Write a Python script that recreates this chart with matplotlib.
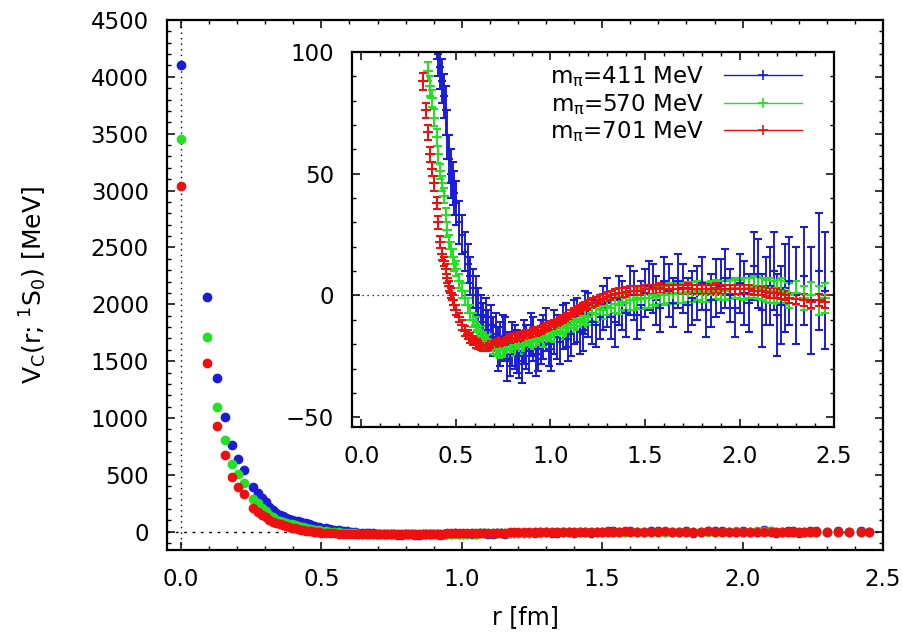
import matplotlib
matplotlib.use("Agg")
import matplotlib.pyplot as plt
from matplotlib.lines import Line2D
from matplotlib.ticker import MultipleLocator

plt.rcParams["font.family"] = ["DejaVu Sans"]
plt.rcParams["mathtext.default"] = "regular"

# ── data: V_C(r; 1S0) [MeV] for three pion masses (shared r grids, fm) ──
R = [0.000, 0.091, 0.129, 0.158, 0.182, 0.203, 0.223, 0.257, 0.273, 0.288,
     0.302, 0.315, 0.328, 0.340, 0.352, 0.364, 0.375, 0.386, 0.397, 0.407,
     0.417, 0.427, 0.436, 0.446, 0.455, 0.464, 0.473, 0.482, 0.491, 0.499,
     0.515, 0.531, 0.546, 0.561, 0.576, 0.590, 0.604, 0.618, 0.632, 0.645,
     0.658, 0.671, 0.684, 0.697, 0.710, 0.735, 0.760, 0.785, 0.810, 0.835,
     0.860, 0.885, 0.910, 0.935, 0.960, 0.990, 1.020, 1.050, 1.080, 1.110,
     1.140, 1.170, 1.200, 1.240, 1.280, 1.320, 1.360, 1.400, 1.440, 1.480,
     1.520, 1.560, 1.600, 1.650, 1.700, 1.750, 1.800, 1.850, 1.900, 1.950,
     2.000, 2.050, 2.100, 2.140, 2.180, 2.220, 2.260, 2.300, 2.340, 2.380,
     2.420, 2.450]
# off-axis lattice points at larger r
R2 = [0.722, 0.748, 0.772, 0.797, 0.822, 0.848, 0.872, 0.897, 0.922, 0.948,
      0.975, 1.005, 1.035, 1.065, 1.095, 1.125, 1.155, 1.185, 1.220, 1.260,
      1.300, 1.340, 1.380, 1.420, 1.460, 1.500, 1.540, 1.580, 1.625, 1.675,
      1.725, 1.775, 1.825, 1.875, 1.925, 1.975, 2.025, 2.075, 2.120, 2.160,
      2.200, 2.240]

V_411 = [4100, 2063, 1350, 1010, 760, 640, 546, 390, 345, 300,
         262, 222, 188, 166, 150, 136, 124, 113, 105, 99,
         94, 88, 82, 76, 66, 56, 50, 46, 42, 38,
         30, 25, 18, 13, 8, 3, 0, -5, -8, -11,
         -9, -14, -12, -17, -16, -20, -18, -24, -21, -25,
         -19, -23, -18, -22, -17, -20, -15, -19, -12, -16,
         -10, -14, -8, -12, -5, -9, -2, -7, 0, -4,
         4, -2, 6, -3, 3, -1, 5, -2, 4, 0,
         5, -3, 9, 2, 10, -4, 6, 0, 8, -2,
         10, 2]
E_411 = [40, 20, 15, 12, 10, 10, 9, 8, 8, 8,
         8, 8, 8, 8, 8, 8, 8, 8, 8, 9,
         9, 9, 9, 10, 10, 10, 10, 9, 9, 9,
         9, 8, 8, 8, 8, 8, 8, 8, 8, 8,
         8, 8, 8, 8, 9, 9, 9, 9, 9, 9,
         9, 9, 9, 9, 9, 9, 9, 9, 9, 9,
         9, 9, 9, 9, 9, 9, 10, 10, 10, 10,
         10, 10, 10, 10, 10, 11, 11, 11, 11, 11,
         12, 12, 14, 14, 16, 16, 18, 20, 20, 22,
         24, 24]
V2_411 = [-22, -17, -26, -20, -23, -27, -21, -16, -24, -19,
          -14, -22, -17, -13, -18, -11, -15, -7, -11, -9,
          -3, -11, -4, 2, -8, 1, 3, -5, 2, 6,
          -4, 1, -6, 3, 7, -5, 1, 12, -6, 4,
          -8, 3]
E2_411 = [9, 9, 9, 9, 9, 9, 9, 9, 9, 9,
          9, 9, 9, 9, 9, 9, 9, 9, 9, 9,
          10, 10, 10, 10, 10, 10, 10, 10, 11, 11,
          11, 11, 11, 12, 12, 12, 13, 14, 15, 16,
          17, 18]

V_570 = [3450, 1714, 1097, 804, 599, 510, 428, 288, 250, 212,
         180, 152, 128, 106, 92, 86, 81, 73, 65, 58,
         51, 46, 41, 33, 27, 22, 19, 16, 13, 11,
         6, 2, -1, -4, -7, -10, -12, -14, -15.5, -17,
         -18, -19, -20, -21, -21.5, -22.5, -22.5, -22, -21.5, -21,
         -20, -19.5, -19, -18.5, -18, -17, -16, -15, -13.5, -12,
         -11, -10, -9, -7.5, -6, -5, -4, -3, -2, -1.5,
         -1, -0.5, 0, 0.5, 1, 1.5, 1.5, 2, 2, 2.5,
         2.5, 3, 3, 2, 1.5, 2, 0, 1, -1, 0,
         -2, -1]
E_570 = [30, 15, 10, 8, 6, 5, 5, 5, 5, 4,
         4, 4, 4, 4, 4, 4, 3.5, 3.5, 3.5, 3.5,
         3, 3, 3, 3, 3, 3, 3, 3, 3, 3,
         3, 3, 3, 3, 3, 3, 3, 3, 3, 3,
         3, 3, 3, 3, 3, 3, 3, 3, 3, 3,
         3, 3, 3, 3, 3, 3, 3, 3, 3, 3,
         3, 3, 3, 3.5, 3.5, 3.5, 3.5, 3.5, 4, 4,
         4, 4, 4, 4, 4, 4, 4, 4, 4, 4,
         4, 4, 4.5, 4.5, 4.5, 5, 5, 5, 5, 5.5,
         6, 6]
V2_570 = [-22, -22.5, -22, -21.5, -20.5, -20, -19, -18.5, -18, -17.5,
          -16.5, -15.5, -14.5, -13, -12, -10.5, -9.5, -8.5, -7, -5.5,
          -4.5, -3.5, -2.5, -2, -1, -1, 0, 0.5, 1, 1,
          1.5, 2, 1.5, 2.5, 2, 3, 2.5, 3.5, 2.5, 2,
          1.5, 1]
E2_570 = [3, 3, 3, 3, 3, 3, 3, 3, 3, 3,
          3, 3, 3, 3, 3, 3, 3, 3, 3.5, 3.5,
          3.5, 3.5, 3.5, 4, 4, 4, 4, 4, 4, 4,
          4, 4, 4, 4, 4, 4, 4.5, 4.5, 4.5, 5,
          5, 5]

V_701 = [3040, 1480, 927, 675, 484, 393, 334, 208, 178, 150,
         126, 106, 88, 76, 67, 58, 52, 46, 38, 30,
         22, 17, 14, 11, 7, 4, 1, -2, -4, -6,
         -9, -12, -14.5, -16, -17.5, -18.5, -19.5, -20, -20.5, -21,
         -21, -20.5, -20.5, -20, -19.5, -19, -18.5, -18, -17.5, -17,
         -16.5, -16, -15.5, -15, -14, -13, -12, -11, -9.5, -8,
         -6.5, -5, -4, -2.5, -1.5, 0, 1, 1.5, 2, 2,
         2.5, 2.5, 2.5, 2.5, 2.5, 2.5, 2.5, 2.5, 2.5, 2.5,
         2.5, 2.5, 2, 1.5, 1, 0.5, -1, -1.5, -2, -2.5,
         -2, -2.5]
E_701 = [30, 15, 10, 8, 6, 5, 5, 4, 4, 4,
         4, 3.5, 3.5, 3, 3, 3, 3, 3, 2.5, 2.5,
         2.5, 2.5, 2, 2, 2, 2, 2, 2, 2, 2,
         2, 2, 2, 2, 2, 2, 2, 2, 2, 2,
         2, 2, 2, 2, 2, 2, 2, 2, 2, 2,
         2, 2, 2, 2, 2, 2, 2, 2, 2, 2,
         2, 2, 2, 2, 2, 2, 2, 2, 2, 2,
         2, 2, 2, 2, 2, 2, 2, 2, 2, 2,
         2, 2, 2, 2, 2, 2, 2, 2, 2.5, 2.5,
         2.5, 2.5]
V2_701 = [-19.5, -19, -18.5, -18, -17.5, -17, -16, -16, -15, -14.5,
          -13.5, -12.5, -11.5, -10, -9, -7, -6, -4.5, -3, -2,
          -0.5, 0.5, 1, 2, 2, 2.5, 2.5, 3, 2.5, 2.5,
          3, 2.5, 2.5, 3, 2.5, 2.5, 2.5, 2, 2, 1,
          1, 0]
E2_701 = [2] * 42

LABELS = [r"m$_\pi$=411 MeV", r"m$_\pi$=570 MeV", r"m$_\pi$=701 MeV"]
COLORS = ["#1c1cd8", "#22e022", "#ee1010"]
SERIES = [(V_411, E_411, V2_411, E2_411),
          (V_570, E_570, V2_570, E2_570),
          (V_701, E_701, V2_701, E2_701)]
MS_INSET = [6, 6.5, 7]

FS = 16.5


def style_axes(ax, xminor, yminor):
    ax.xaxis.set_minor_locator(MultipleLocator(xminor))
    ax.yaxis.set_minor_locator(MultipleLocator(yminor))
    ax.tick_params(which="both", direction="in", top=True, right=True,
                   labelsize=FS, pad=13)
    ax.tick_params(which="major", length=6, width=1.1)
    ax.tick_params(which="minor", length=3, width=1.0)
    for sp in ax.spines.values():
        sp.set_linewidth(1.6)


fig = plt.figure(figsize=(9.04, 6.32), dpi=100)

# ── main panel ──
ax = fig.add_axes([0.1847, 0.1297, 0.7921, 0.8387])
for (v, e, v2, e2), c in zip(SERIES, COLORS):
    ax.plot(R + R2, v + v2, "o", ms=6, color=c, mec=c, lw=0)
ax.axhline(0, color="black", lw=1, ls=(0, (2, 4)), zorder=0)
ax.axvline(0, color="black", lw=1, ls=(0, (1, 3)), zorder=0)
ax.set_xlim(-0.05, 2.5)
ax.set_ylim(-160, 4500)
ax.xaxis.set_major_locator(MultipleLocator(0.5))
ax.yaxis.set_major_locator(MultipleLocator(500))
ax.xaxis.set_major_formatter(plt.FormatStrFormatter("%.1f"))
style_axes(ax, 0.1, 100)
ax.set_xlabel("r [fm]", fontsize=17, labelpad=10)
ax.set_ylabel(r"V$_C$(r; $^1$S$_0$) [MeV]", fontsize=18)
ax.yaxis.set_label_coords(-0.165, 0.5)

# ── inset ──
ins = fig.add_axes([0.3894, 0.3244, 0.5332, 0.5933])
ins.set_facecolor("white")
for (v, e, v2, e2), c, ms in zip(SERIES, COLORS, MS_INSET):
    ins.errorbar(R + R2, v + v2, yerr=e + e2, fmt="+", ms=ms, mew=1.5, color=c,
                 ecolor=c, elinewidth=1.4, capsize=3, capthick=1.4)
ins.axhline(0, color="black", lw=0.9, ls=(0, (1, 3)), zorder=0)
ins.set_xlim(-0.05, 2.5)
ins.set_ylim(-54, 100)
ins.xaxis.set_major_locator(MultipleLocator(0.5))
ins.yaxis.set_major_locator(MultipleLocator(50))
ins.xaxis.set_major_formatter(plt.FormatStrFormatter("%.1f"))
style_axes(ins, 0.1, 10)

handles = [Line2D([0], [0], color=c, lw=1.0, marker="+", ms=7, mew=1.2)
           for c in COLORS]
ins.legend(handles, LABELS, loc="upper right", bbox_to_anchor=(0.934, 0.968),
           frameon=False, markerfirst=False, fontsize=FS, handlelength=3.4,
           handletextpad=0.9, labelspacing=0.12, borderpad=0, borderaxespad=0)

plt.savefig("out.png", dpi=100)
plt.close()
